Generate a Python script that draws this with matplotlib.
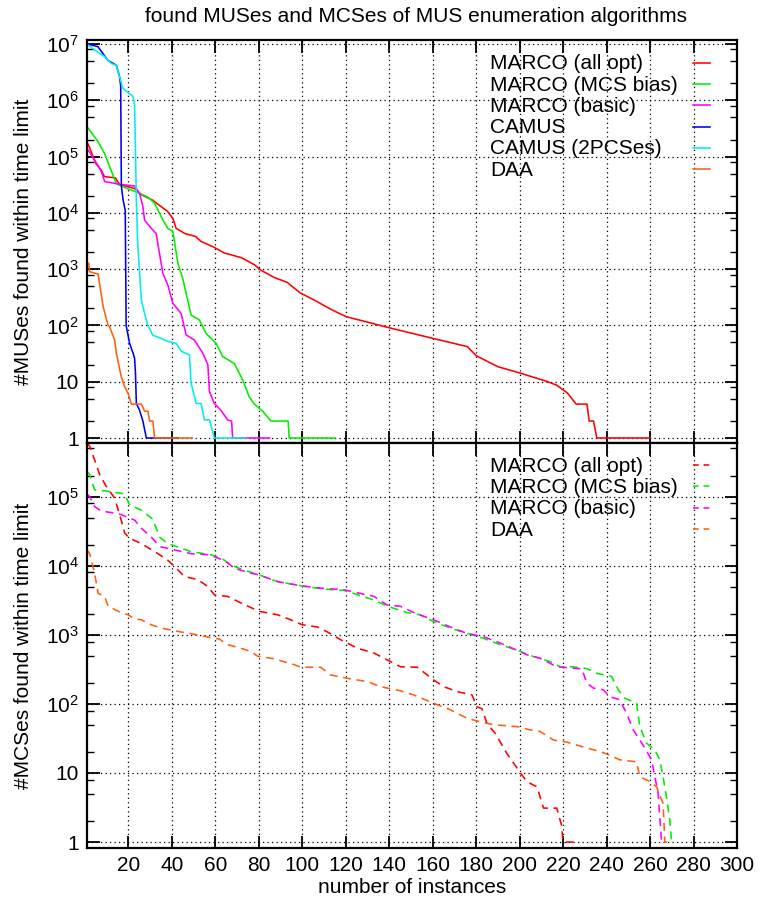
import math
import matplotlib
matplotlib.use("Agg")
import matplotlib.pyplot as plt
from matplotlib.lines import Line2D
from matplotlib.ticker import LogLocator, FixedLocator, FuncFormatter, NullFormatter

plt.rcParams['font.family'] = ['Liberation Sans', 'DejaVu Sans']
plt.rcParams['mathtext.fontset'] = 'custom'
plt.rcParams['mathtext.rm'] = 'Liberation Sans'
plt.rcParams['mathtext.it'] = 'Liberation Sans'
plt.rcParams['mathtext.bf'] = 'Liberation Sans'

title = "found MUSes and MCSes of MUS enumeration algorithms"
xlabel = "number of instances"
ylabel_top = "#MUSes found within time limit"
ylabel_bot = "#MCSes found within time limit"
x_ticks = [20, 40, 60, 80, 100, 120, 140, 160, 180, 200, 220, 240, 260, 280, 300]
labels_top = ['MARCO (all opt)', 'MARCO (MCS bias)', 'MARCO (basic)', 'CAMUS', 'CAMUS (2PCSes)', 'DAA']
labels_bot = ['MARCO (all opt)', 'MARCO (MCS bias)', 'MARCO (basic)', 'DAA']

# ---------- MUSes (top panel) ----------
mus_marco_all_x = [1, 2, 5, 7.5, 9, 14, 16, 23, 26, 31, 35, 38, 40.5, 42, 46, 51, 53.5, 59, 64, 72, 78, 81, 87, 93,
                   99, 105.5, 113, 120, 140, 160, 176, 180, 190, 199, 212, 217, 222, 226, 231, 232, 234, 235.5, 260]
mus_marco_all_y = [1.8e5, 1.5e5, 7.6e4, 5.8e4, 4.4e4, 4.2e4, 3.2e4, 2.7e4, 2.1e4, 1.7e4, 1.3e4, 1.07e4, 8e3, 5.3e3,
                   4.3e3, 3.8e3, 3.1e3, 2.5e3, 1.95e3, 1.6e3, 1.2e3, 960, 715, 585, 380, 283, 195, 144, 91, 59, 42,
                   29, 18.5, 14.7, 10.3, 8.7, 6.3, 4, 4, 2, 2, 1, 1]

mus_marco_mcs_x = [1, 6, 9, 12, 14.5, 19.5, 24.5, 29, 32, 34.4, 36, 38.2, 40.5, 42.8, 45, 48.9, 52.7, 55.8, 60.4,
                   63.4, 68.8, 72.6, 75.6, 78, 81.8, 85.6, 93.5, 94, 115]
mus_marco_mcs_y = [3.4e5, 1.86e5, 1.15e5, 5.8e4, 3.3e4, 2.7e4, 2.3e4, 1.9e4, 1.5e4, 9.8e3, 7.4e3, 5.3e3, 4.7e3,
                   1.27e3, 690, 153, 125, 72, 48, 28, 21, 10.7, 5.4, 4, 3, 2, 2, 1, 1]

mus_marco_basic_x = [1, 4.5, 7.6, 9.1, 16.8, 22.9, 25.2, 26.7, 27.5, 30.6, 32.8, 35.9, 38.2, 40.5, 44.3, 46.6,
                     50.4, 54.3, 56.6, 57.3, 59.6, 62.6, 65.7, 67.5, 68, 85]
mus_marco_basic_y = [1.4e5, 8.7e4, 5.5e4, 3.6e4, 3.2e4, 3e4, 2.2e4, 1.3e4, 7.4e3, 5.3e3, 4.3e3, 840, 520, 247, 163,
                     68, 55, 32, 20, 6.7, 4.1, 3.1, 2.1, 2, 1, 1]

mus_camus_x = [1, 6, 10.7, 14.5, 16, 16.5, 16.8, 17.6, 18.6, 19, 20.6, 22.2, 22.9, 23.3, 23.7, 25.2, 26.7, 28.3, 43]
mus_camus_y = [1e7, 9e6, 5.1e6, 4.2e6, 2.6e6, 1.8e6, 3e4, 1.7e4, 1.1e4, 100, 48, 32, 26, 14, 4.1, 3.1, 2, 1, 1]

mus_camus2_x = [1, 4.5, 9.1, 12.2, 14.5, 16, 17.5, 20.6, 22.2, 22.9, 23.7, 24.3, 26, 27.5, 29, 31.3, 35.1, 38.2, 42,
                44.3, 48.1, 48.9, 51.2, 53.5, 55, 57.3, 59.6, 74]
mus_camus2_y = [1e7, 7.8e6, 6e6, 4.5e6, 4.2e6, 2.6e6, 1.65e6, 1.3e6, 1.17e6, 8.2e5, 1.7e4, 3e3, 283, 163, 100, 67,
                59, 52, 48, 35, 30, 9.4, 4.1, 4.1, 2.1, 2.1, 1, 1]

mus_daa_x = [1, 1.8, 2.2, 6.1, 8.4, 10.7, 11.4, 13.7, 14.5, 16.8, 18.3, 19.9, 21.4, 26, 27.5, 29, 29.8, 31.3, 32.1, 49.4]
mus_daa_y = [1.3e3, 1.27e3, 900, 820, 218, 100, 95, 55, 32, 12, 8.2, 6.2, 4, 4, 3, 3, 2, 2, 1, 1]

# ---------- MCSes (bottom panel) ----------
mcs_marco_all_x = [1, 2.2, 4.5, 6.8, 9.9, 13.7, 17.6, 18.3, 20.6, 26, 33.6, 38.2, 41.2, 45.8, 52, 56.6, 59.6, 65.7,
                   71.8, 80, 88.7, 94.8, 100, 107, 111.6, 117.7, 125.4, 133, 137.6, 145.2, 152.9, 160.5, 165.1,
                   171.2, 178.1, 180.4, 182.7, 185, 188.8, 194.2, 199.5, 203.3, 208, 211, 217.1, 219.4, 219.9, 227]
mcs_marco_all_y = [6e5, 5.4e5, 3.4e5, 2.1e5, 1.4e5, 9.6e4, 3.7e4, 3e4, 2.5e4, 2.1e4, 1.5e4, 1.2e4, 9.8e3, 7e3,
                   6.3e3, 5e3, 3.8e3, 3.6e3, 2.9e3, 2.2e3, 1.95e3, 1.65e3, 1.4e3, 1.3e3, 1.1e3, 850, 640, 545, 460,
                   345, 340, 222, 178, 151, 135, 91, 85, 52, 37.5, 19, 11, 7.5, 6.3, 3.1, 3.1, 1.7, 1, 1]

mcs_marco_mcs_x = [1, 2.2, 4.5, 10.7, 18.3, 20.6, 26, 31.3, 34.4, 38.2, 44.3, 48.9, 58, 62.7, 67.2, 71.8, 80, 88.7,
                   100, 110, 119.2, 133, 139.1, 148.3, 154.4, 160.5, 168.2, 175.8, 183.4, 191.1, 198.8, 206.4, 214,
                   218.6, 224.7, 230.9, 235.5, 242.3, 245.4, 248.4, 253.8, 255.3, 258.4, 262.2, 264.5, 266.8,
                   269.1, 269.9]
mcs_marco_mcs_y = [2.3e5, 2.1e5, 1.26e5, 1.2e5, 1.1e5, 7.6e4, 6.4e4, 4.7e4, 2.6e4, 2.1e4, 1.8e4, 1.6e4, 1.45e4,
                   1.3e4, 1.03e4, 9e3, 7.4e3, 5.9e3, 5.1e3, 4.6e3, 4.4e3, 3.2e3, 2.6e3, 2.1e3, 1.95e3, 1.55e3,
                   1.25e3, 1.05e3, 890, 720, 600, 485, 410, 345, 345, 325, 277, 250, 160, 121, 102, 47, 27, 21.5,
                   15.5, 6.3, 2.1, 1]

mcs_marco_basic_x = [1, 2.2, 4.5, 7.6, 13.7, 16.8, 19.9, 22.9, 26, 30.6, 34.4, 41.2, 48.9, 56.6, 64.2, 68.8, 76.4,
                     80, 88.7, 100, 110, 119.2, 133, 139.1, 145, 152.9, 160.5, 168.2, 175.8, 183.4, 191.1, 198.8,
                     203.3, 209.4, 217.1, 226.3, 228.6, 230.9, 233.9, 238.5, 241.6, 246.1, 249.2, 252.3, 255.3,
                     259.1, 260.7, 263.7, 265.3]
mcs_marco_basic_y = [1.1e5, 1e5, 7.2e4, 6.2e4, 5.8e4, 5.5e4, 5e4, 4.6e4, 3.5e4, 2.6e4, 1.9e4, 1.7e4, 1.5e4,
                     1.45e4, 1.2e4, 9.2e3, 7.8e3, 7.4e3, 5.9e3, 5.1e3, 4.7e3, 4.5e3, 3.6e3, 2.7e3, 2.6e3, 2e3,
                     1.65e3, 1.3e3, 1.05e3, 940, 760, 600, 515, 460, 345, 325, 325, 200, 170, 160, 127, 115, 73,
                     42, 30, 19, 15.5, 5.1, 1]

mcs_daa_x = [1, 2.2, 4.5, 6.1, 9.1, 10.7, 15.3, 19.9, 22.9, 26, 30.6, 35.1, 38.2, 44.3, 50.4, 59.6, 61.9, 65.7,
             71.8, 76.4, 79.5, 87.1, 96.3, 99.4, 108.5, 113.1, 120.8, 130, 136, 145.2, 151.3, 160.5, 168.2, 175.8,
             182, 188, 198.8, 204.9, 209.4, 215.6, 221.7, 230.9, 237, 241.6, 246.1, 253.8, 255.3, 259.9, 263, 266,
             266.8, 270]
mcs_daa_y = [1.7e4, 1.5e4, 7.8e3, 4e3, 3.6e3, 2.6e3, 2.2e3, 1.95e3, 1.7e3, 1.65e3, 1.4e3, 1.25e3, 1.2e3, 1.1e3,
             1.02e3, 890, 870, 720, 640, 575, 490, 450, 370, 340, 340, 262, 235, 210, 178, 155, 135, 102, 82, 62,
             55, 50, 47, 42, 40, 30, 28, 23, 20.5, 18, 15.5, 14.5, 8.8, 7.5, 6.3, 3.6, 1, 1]

C_RED = '#ff0000'
C_GREEN = '#00ee00'
C_MAG = '#ff00ff'
C_BLUE = '#0000ee'
C_CYAN = '#00eeee'
C_ORANGE = '#ff5f0f'

FS = 15
W, H = 760, 902
fig = plt.figure(figsize=(W / 100, H / 100), dpi=100)
L, R = 87 / W, 737 / W
ax1 = fig.add_axes([L, 1 - 443 / H, R - L, (443 - 40) / H])
ax2 = fig.add_axes([L, 1 - 848 / H, R - L, (848 - 443) / H])

lw = 1.15
dash = (0, (5, 3.5))
top_series = [(mus_marco_all_x, mus_marco_all_y, C_RED), (mus_marco_mcs_x, mus_marco_mcs_y, C_GREEN),
              (mus_marco_basic_x, mus_marco_basic_y, C_MAG), (mus_camus_x, mus_camus_y, C_BLUE),
              (mus_camus2_x, mus_camus2_y, C_CYAN), (mus_daa_x, mus_daa_y, C_ORANGE)]
bot_series = [(mcs_marco_all_x, mcs_marco_all_y, C_RED), (mcs_marco_mcs_x, mcs_marco_mcs_y, C_GREEN),
              (mcs_marco_basic_x, mcs_marco_basic_y, C_MAG), (mcs_daa_x, mcs_daa_y, C_ORANGE)]

for (xs, ys, c), lab in zip(top_series, labels_top):
    ax1.plot(xs, ys, color=c, lw=lw, label=lab)
for (xs, ys, c), lab in zip(bot_series, labels_bot):
    ax2.plot(xs, ys, color=c, lw=lw, ls=dash, label=lab)


def logfmt(v, pos):
    e = int(round(math.log10(v)))
    if e == 0:
        return '1'
    if e == 1:
        return '10'
    return r'$10^{%d}$' % e


for ax, ylim, ylab, decades in [(ax1, (0.815, 1.18e7), ylabel_top, range(0, 8)),
                                (ax2, (0.82, 6e5), ylabel_bot, range(0, 6))]:
    ax.set_yscale('log')
    ax.set_xlim(1, 300)
    ax.set_ylim(*ylim)
    ax.xaxis.set_major_locator(FixedLocator(x_ticks))
    ax.yaxis.set_major_locator(FixedLocator([10.0 ** d for d in decades]))
    ax.yaxis.set_minor_locator(LogLocator(base=10, subs=(2.0, 5.0, 8.0), numticks=20))
    ax.yaxis.set_major_formatter(FuncFormatter(logfmt))
    ax.yaxis.set_minor_formatter(NullFormatter())
    ax.tick_params(axis='both', which='major', direction='in', length=9, width=1.3,
                   top=True, right=True, labelsize=FS, pad=6)
    ax.tick_params(axis='y', which='minor', direction='in', length=5, width=1.0, left=True, right=True,
                   labelleft=False, labelright=False)
    ax.tick_params(axis='x', which='minor', bottom=False, top=False)
    for s in ax.spines.values():
        s.set_linewidth(1.6)
    ax.grid(True, which='major', color='black', ls=(0, (1, 2.6)), lw=0.9)
    ax.set_ylabel(ylab, fontsize=FS)
    ax.yaxis.set_label_coords(-0.083, 0.5)

ax1.tick_params(axis='x', labelbottom=False)
ax2.set_xlabel(xlabel, fontsize=FS, labelpad=2)
fig.text((L + R) / 2 + 0.005, 1 - 16 / H, title, ha='center', va='center', fontsize=FS)


def px(x):
    return x / W


def py(y):
    return 1 - y / H


# gnuplot-style keys: left-aligned text, line sample on the right
def draw_key(labels, colors, base0, styles):
    for i, (lab, c, st) in enumerate(zip(labels, colors, styles)):
        b = base0 + 21.3 * i
        fig.text(px(490), py(b), lab, ha='left', va='baseline', fontsize=FS)
        fig.add_artist(Line2D([px(693), px(710)], [py(b - 6.7), py(b - 6.7)], color=c, lw=lw, ls=st,
                              transform=fig.transFigure))


draw_key(labels_top, [s[2] for s in top_series], 69.3, ['-'] * 6)
draw_key(labels_bot, [s[2] for s in bot_series], 471.7, [(0, (3.6, 3))] * 4)

fig.savefig('out.png', dpi=100)
